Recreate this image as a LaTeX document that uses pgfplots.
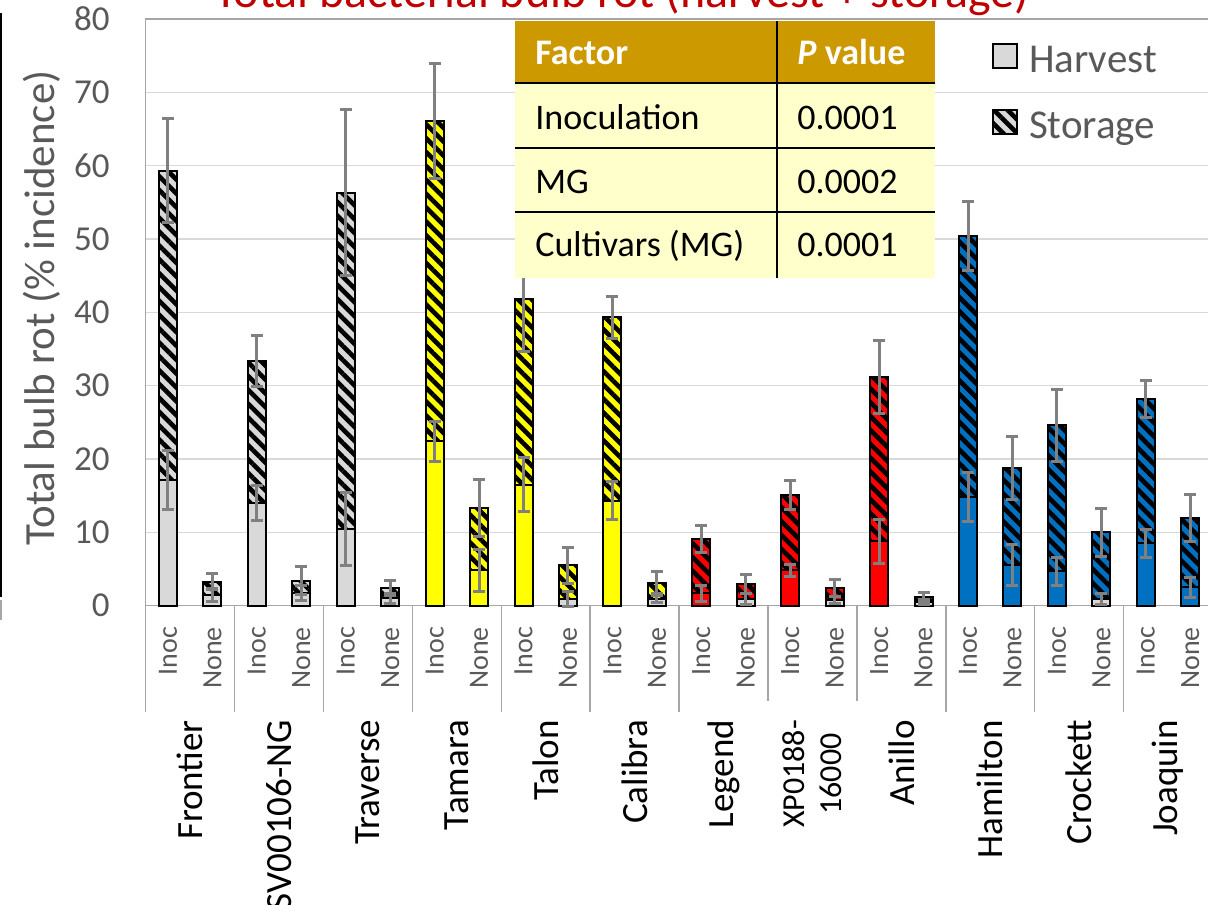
\documentclass[border=0pt]{standalone}
\usepackage{fontspec}
\setmainfont{Carlito}
\usepackage{pgfplots}
\pgfplotsset{compat=1.18}
\usepackage{pgfplotstable}
\usetikzlibrary{patterns.meta}

\definecolor{lgray}{HTML}{D9D9D9}
\definecolor{ylw}{HTML}{FFFF00}
\definecolor{rd}{HTML}{FF0000}
\definecolor{bl}{HTML}{0070C0}
\definecolor{errg}{HTML}{808080}
\definecolor{txtg}{HTML}{595959}
\definecolor{gridg}{HTML}{D9D9D9}
\definecolor{axg}{HTML}{A6A6A6}
\definecolor{titlered}{HTML}{C00000}
\definecolor{hdr}{HTML}{CC9900}
\definecolor{tbody}{HTML}{FFFFCC}

% x = bar index, H = harvest, He = harvest error, T = harvest+storage, Te = storage error
\pgfplotstableread{
x H He T Te
0 17.1 4.0 59.3 7.1
1 1.5 0.9 3.3 1.1
2 14.0 2.4 33.4 3.5
3 1.7 1.0 3.4 1.9
4 10.5 5.0 56.3 11.3
5 1.0 0.7 2.4 1.0
6 22.4 2.7 66.1 7.8
7 4.8 2.9 13.3 3.9
8 16.5 3.7 41.8 7.2
9 0.9 1.0 5.5 2.5
10 14.3 2.6 39.3 2.9
11 0.9 0.5 3.1 1.5
12 1.7 1.1 9.1 1.9
13 0.9 0.7 3.0 1.3
14 4.8 0.8 15.1 2.0
15 0.8 0.5 2.4 1.2
16 8.8 3.0 31.2 5.0
17 0.5 0.3 1.2 0.6
18 14.8 3.3 50.4 4.7
19 5.5 2.8 18.8 4.3
20 4.7 1.9 24.6 4.9
21 0.9 0.8 10.0 3.3
22 8.5 1.9 28.2 2.5
23 2.5 1.4 11.9 3.2
}\errdata

\tikzset{
  harv/.style={draw=black, line width=1pt, fill=#1},
  stor/.style={draw=black, line width=1pt, fill=#1,
    postaction={pattern={Lines[angle=-45,distance=4.9pt,line width=2.3pt]}, pattern color=black}},
}

\begin{document}
\begin{tikzpicture}
\begin{axis}[
  at={(72.85pt,149.15pt)}, anchor=south west,
  width=533.4pt, height=293.35pt, scale only axis,
  xmin=-0.5, xmax=23.5, ymin=0, ymax=80,
  ybar, bar width=0.405,
  ytick={0,10,...,80},
  ymajorgrids, grid style={gridg, line width=0.75pt},
  axis line style={axg, line width=0.75pt},
  major tick length=0pt,
  xtick={0,...,23},
  xticklabels={Inoc,None,Inoc,None,Inoc,None,Inoc,None,Inoc,None,Inoc,None,Inoc,None,Inoc,None,Inoc,None,Inoc,None,Inoc,None,Inoc,None},
  xticklabel style={rotate=90, anchor=east, inner sep=0pt, font=\fontsize{14}{16}\selectfont, text=txtg},
  xticklabel shift=10.5pt,
  yticklabel style={font=\fontsize{17.5}{20}\selectfont, text=txtg, inner sep=0pt},
  yticklabel shift=17.8pt,
  /pgf/number format/assume math mode=true,
  clip=false,
  legend style={at={(0.793,0.960)}, anchor=north west, draw=none, fill=none, inner sep=0pt,
    font=\fontsize{20.5}{24}\selectfont, text=txtg, row sep=16.5pt,
    nodes={inner sep=0pt},
    /tikz/every odd column/.append style={column sep=5.5pt}},
  legend cell align=left,
]
\addlegendimage{legend image code/.code={\draw[draw=black,line width=1pt,fill=lgray] (0pt,-3.5pt) rectangle (12pt,8.5pt);}}
\addlegendentry{Harvest}
\addlegendimage{legend image code/.code={\draw[draw=black,line width=1pt,fill=lgray,postaction={pattern={Lines[angle=-45,distance=4.9pt,line width=2.3pt]}, pattern color=black}] (0pt,-3.5pt) rectangle (12pt,8.5pt);}}
\addlegendentry{Storage}

% storage (stacked total) bars
\addplot[stor=lgray, bar shift=0pt, forget plot] coordinates {(0,59.3)(1,3.3)(2,33.4)(3,3.4)(4,56.3)(5,2.4)};
\addplot[stor=ylw, bar shift=0pt, forget plot] coordinates {(6,66.1)(7,13.3)(8,41.8)(9,5.5)(10,39.3)(11,3.1)};
\addplot[stor=rd, bar shift=0pt, forget plot] coordinates {(12,9.1)(13,3.0)(14,15.1)(15,2.4)(16,31.2)(17,1.2)};
\addplot[stor=bl, bar shift=0pt, forget plot] coordinates {(18,50.4)(19,18.8)(20,24.6)(21,10.0)(22,28.2)(23,11.9)};
% harvest bars
\addplot[harv=lgray, bar shift=0pt, forget plot] coordinates {(0,17.1)(1,1.5)(2,14.0)(3,1.7)(4,10.5)(5,1.0)(9,0.9)(11,0.9)(13,0.9)(15,0.8)(17,0.5)(21,0.9)};
\addplot[harv=ylw, bar shift=0pt, forget plot] coordinates {(6,22.4)(7,4.8)(8,16.5)(10,14.3)};
\addplot[harv=rd, bar shift=0pt, forget plot] coordinates {(12,1.7)(14,4.8)(16,8.8)};
\addplot[harv=bl, bar shift=0pt, forget plot] coordinates {(18,14.8)(19,5.5)(20,4.7)(22,8.5)(23,2.5)};
% error bars
\addplot[bar shift=0pt, draw=none, fill=none, forget plot,
  error bars/.cd, y dir=both, y explicit, error mark=|,
  error bar style={errg, line width=1.5pt},
  error mark options={errg, line width=1.5pt, mark size=3pt}]
  table[x=x, y=H, y error=He] {\errdata};
\addplot[bar shift=0pt, draw=none, fill=none, forget plot,
  error bars/.cd, y dir=both, y explicit, error mark=|,
  error bar style={errg, line width=1.5pt},
  error mark options={errg, line width=1.5pt, mark size=3pt}]
  table[x=x, y=T, y error=Te] {\errdata};

% group separators
\draw[axg, line width=0.75pt] (axis cs:-0.5,0) -- ++(0pt,-53pt);
\draw[axg, line width=0.75pt] (axis cs:1.5,0) -- ++(0pt,-53pt);
\draw[axg, line width=0.75pt] (axis cs:3.5,0) -- ++(0pt,-53pt);
\draw[axg, line width=0.75pt] (axis cs:5.5,0) -- ++(0pt,-53pt);
\draw[axg, line width=0.75pt] (axis cs:7.5,0) -- ++(0pt,-53pt);
\draw[axg, line width=0.75pt] (axis cs:9.5,0) -- ++(0pt,-53pt);
\draw[axg, line width=0.75pt] (axis cs:11.5,0) -- ++(0pt,-53pt);
\draw[axg, line width=0.75pt] (axis cs:13.5,0) -- ++(0pt,-47.8pt);
\draw[axg, line width=0.75pt] (axis cs:15.5,0) -- ++(0pt,-47.8pt);
\draw[axg, line width=0.75pt] (axis cs:17.5,0) -- ++(0pt,-53pt);
\draw[axg, line width=0.75pt] (axis cs:19.5,0) -- ++(0pt,-53pt);
\draw[axg, line width=0.75pt] (axis cs:21.5,0) -- ++(0pt,-53pt);
\draw[axg, line width=0.75pt] (axis cs:23.5,0) -- ++(0pt,-53pt);

% cultivar labels
\tikzset{cult/.style={rotate=90, anchor=east, inner sep=0pt, font=\fontsize{18.5}{21}\selectfont, text=black}}
\node[cult] at ([yshift=-57pt]axis cs:0.5,0) {Frontier};
\node[cult] at ([yshift=-57pt]axis cs:2.5,0) {SV00106-NG};
\node[cult] at ([yshift=-57pt]axis cs:4.5,0) {Traverse};
\node[cult] at ([yshift=-57pt]axis cs:6.5,0) {Tamara};
\node[cult] at ([yshift=-57pt]axis cs:8.5,0) {Talon};
\node[cult] at ([yshift=-57pt]axis cs:10.5,0) {Calibra};
\node[cult] at ([yshift=-57pt]axis cs:12.5,0) {Legend};
\node[cult, align=center, font=\fontsize{16}{18.5}\selectfont] at ([yshift=-57pt]axis cs:14.5,0) {XP0188-\\16000};
\node[cult] at ([yshift=-57pt]axis cs:16.5,0) {Anillo};
\node[cult] at ([yshift=-57pt]axis cs:18.5,0) {Hamilton};
\node[cult] at ([yshift=-57pt]axis cs:20.5,0) {Crockett};
\node[cult] at ([yshift=-57pt]axis cs:22.5,0) {Joaquin};
\end{axis}

% y axis label
\node[rotate=90, anchor=base, inner sep=0pt, font=\fontsize{21.5}{24}\selectfont, text=txtg] at (27.5pt,298pt) {Total bulb rot (\% incidence)};

% title (cut off at the top)
\node[anchor=base, inner sep=0pt, font=\fontsize{24}{28}\selectfont, text=titlered] at (311pt,448pt) {Total bacterial bulb rot (harvest + storage)};

% left edge line from neighbouring figure
\draw[black, line width=1pt] (0.6pt,445.5pt) -- (0.6pt,153.5pt);
\draw[axg, line width=1pt] (0.6pt,152pt) -- (0.6pt,142pt);

% P-value table
\fill[hdr] (257.5pt,410.35pt) rectangle (467.5pt,441.5pt);
\fill[tbody] (257.5pt,312.85pt) rectangle (467.5pt,410.35pt);
\draw[black, line width=1pt] (257.5pt,410.35pt) -- (467.5pt,410.35pt);
\draw[black, line width=1pt] (257.5pt,378.15pt) -- (467.5pt,378.15pt);
\draw[black, line width=1pt] (257.5pt,346.15pt) -- (467.5pt,346.15pt);
\draw[black, line width=1pt] (388.65pt,312.85pt) -- (388.65pt,441.5pt);
\tikzset{tcell/.style={anchor=base west, inner sep=0pt, font=\fontsize{18}{21}\selectfont}}
\node[tcell, text=white, font=\fontsize{18}{21}\selectfont\bfseries] at (267.5pt,419.5pt) {Factor};
\node[tcell, text=white, font=\fontsize{18}{21}\selectfont\bfseries] at (398.5pt,419.5pt) {\textit{P} value};
\node[tcell] at (267.5pt,387.35pt) {Inoculation};
\node[tcell] at (398.5pt,387.35pt) {0.0001};
\node[tcell] at (267.5pt,355.35pt) {MG};
\node[tcell] at (398.5pt,355.35pt) {0.0002};
\node[tcell] at (267.5pt,323.65pt) {Cultivars (MG)};
\node[tcell] at (398.5pt,323.65pt) {0.0001};

\pgfresetboundingbox
\useasboundingbox (0pt,0pt) rectangle (604pt,452pt);
\end{tikzpicture}
\end{document}
